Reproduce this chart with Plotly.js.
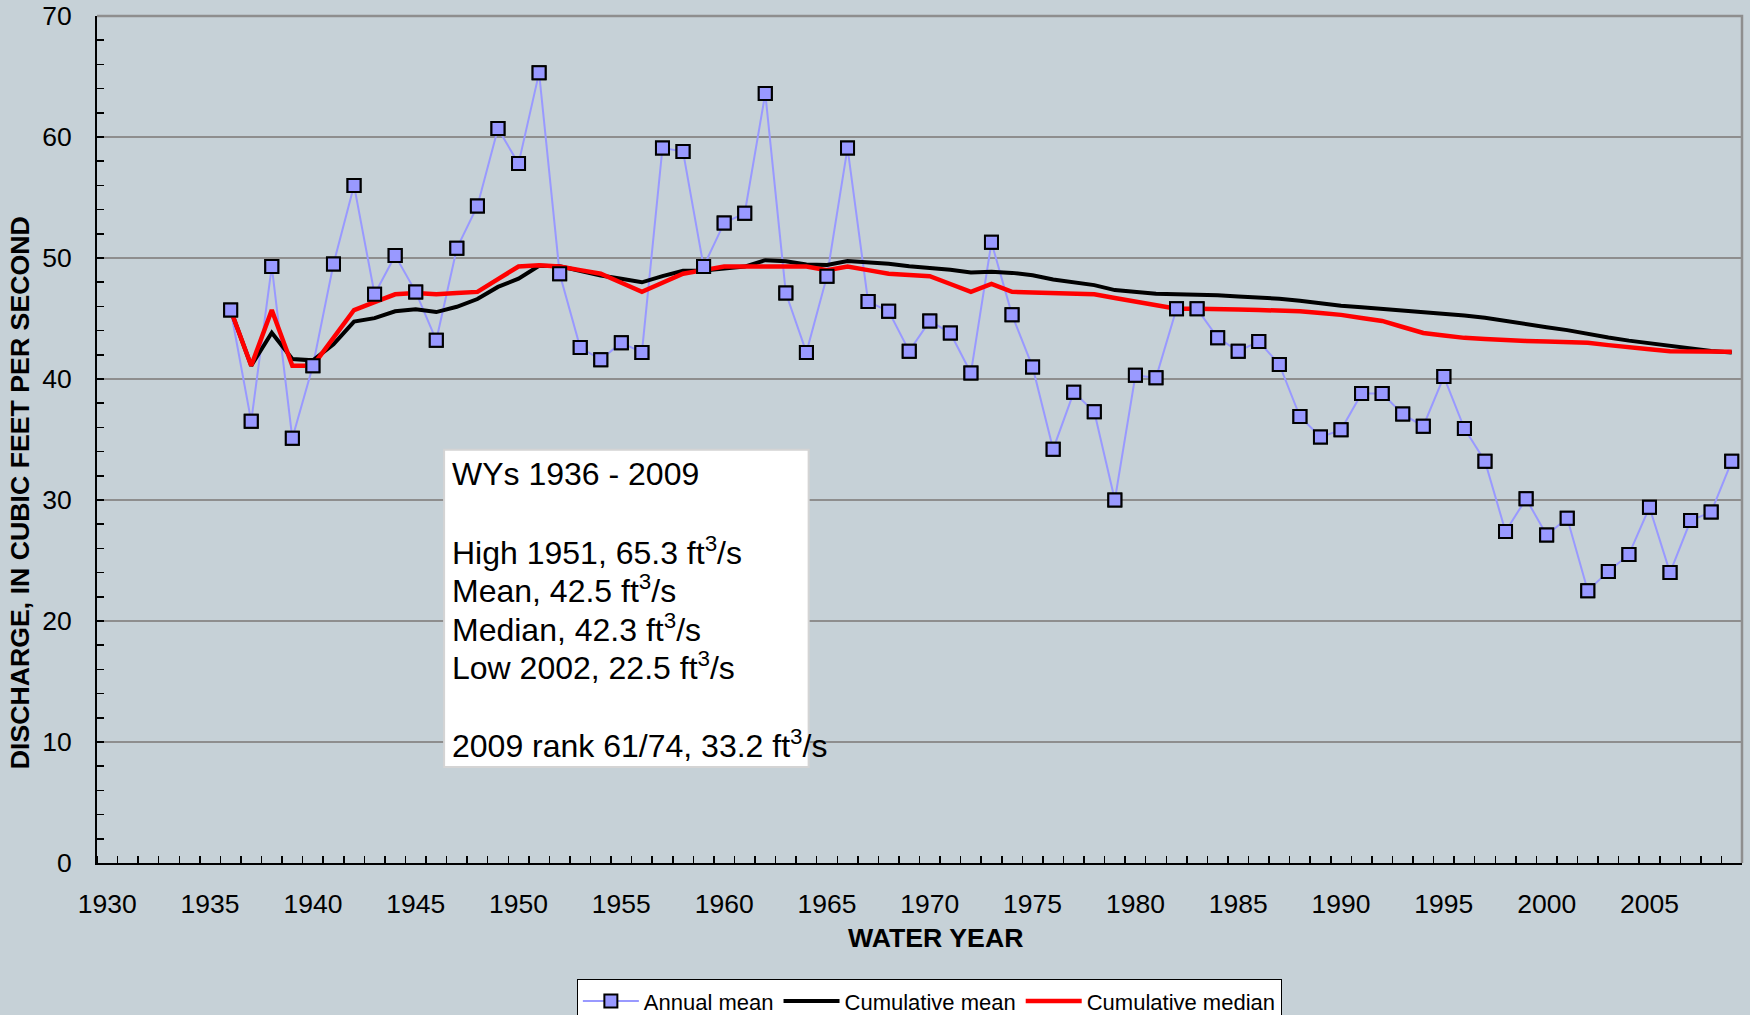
<!DOCTYPE html>
<html>
<head>
<meta charset="utf-8">
<script src="https://cdn.plot.ly/plotly-3.0.1.min.js"></script>
<style>
html,body{margin:0;padding:0;background:#C6D1D7;}
#chart{width:1750px;height:1015px;}
</style>
</head>
<body>
<div id="chart"></div>
<script>
// ---- data ----
const years = [1936,1937,1938,1939,1940,1941,1942,1943,1944,1945,1946,1947,1948,1949,1950,
  1951,1952,1953,1954,1955,1956,1957,1958,1959,1960,1961,1962,1963,1964,1965,
  1966,1967,1968,1969,1970,1971,1972,1973,1974,1975,1976,1977,1978,1979,1980,
  1981,1982,1983,1984,1985,1986,1987,1988,1989,1990,1991,1992,1993,1994,1995,
  1996,1997,1998,1999,2000,2001,2002,2003,2004,2005,2006,2007,2008,2009];

const annualMean = [45.7,36.5,49.3,35.1,41.1,49.5,56.0,47.0,50.2,47.2,43.2,50.8,54.3,60.7,57.8,
  65.3,48.7,42.6,41.6,43.0,42.2,59.1,58.8,49.3,52.9,53.7,63.6,47.1,42.2,48.5,
  59.1,46.4,45.6,42.3,44.8,43.8,40.5,51.3,45.3,41.0,34.2,38.9,37.3,30.0,40.3,
  40.1,45.8,45.8,43.4,42.3,43.1,41.2,36.9,35.2,35.8,38.8,38.8,37.1,36.1,40.2,
  35.9,33.2,27.4,30.1,27.1,28.5,22.5,24.1,25.5,29.4,24.0,28.3,29.0,33.2];

const cumulativeMean = [45.70,41.10,43.83,41.65,41.54,42.87,44.74,45.03,45.60,45.76,45.53,45.97,46.61,47.61,48.29,
  49.36,49.32,48.94,48.56,48.28,47.99,48.50,48.94,48.96,49.12,49.29,49.82,49.73,49.47,49.43,
  49.75,49.64,49.52,49.31,49.18,49.03,48.80,48.86,48.77,48.58,48.23,48.00,47.76,47.35,47.20,
  47.04,47.01,46.99,46.92,46.82,46.75,46.64,46.46,46.25,46.06,45.93,45.81,45.66,45.49,45.41,
  45.25,45.06,44.78,44.55,44.28,44.04,43.72,43.43,43.17,42.97,42.71,42.51,42.32,42.20];

const cumulativeMedian = [45.7,41.1,45.7,41.1,41.1,43.4,45.7,46.35,47.0,47.1,47.0,47.1,47.2,48.25,49.3,
  49.4,49.3,49.0,48.7,47.95,47.2,47.95,48.7,49.0,49.3,49.3,49.3,49.3,49.3,49.0,
  49.3,49.0,48.7,48.6,48.5,47.85,47.2,47.85,47.2,47.15,47.1,47.05,47.0,46.7,46.4,
  46.05,45.8,45.8,45.8,45.75,45.7,45.65,45.6,45.45,45.3,45.05,44.8,44.3,43.8,43.6,
  43.4,43.3,43.2,43.15,43.1,43.05,43.0,42.8,42.6,42.45,42.3,42.3,42.3,42.25];

const xTickValues = [1930,1935,1940,1945,1950,1955,1960,1965,1970,1975,1980,1985,1990,1995,2000,2005];
const xTickLabels = ["1930","1935","1940","1945","1950","1955","1960","1965","1970","1975","1980","1985","1990","1995","2000","2005"];

const seriesNames = ["Annual mean","Cumulative mean","Cumulative median"];
const xAxisTitle = "WATER YEAR";
const yAxisTitle = "DISCHARGE, IN CUBIC FEET PER SECOND";

const summaryLines = [
  "WYs 1936 - 2009",
  "High 1951, 65.3 ft<sup>3</sup>/s",
  "Mean, 42.5 ft<sup>3</sup>/s",
  "Median, 42.3 ft<sup>3</sup>/s",
  "Low 2002, 22.5 ft<sup>3</sup>/s",
  "2009 rank 61/74, 33.2 ft<sup>3</sup>/s"
];
const summaryLineY = [0.4598, 0.3684, 0.3231, 0.2779, 0.2326, 0.1410];

// ---- styling ----
const FONT = "Liberation Sans, Arial, Helvetica, sans-serif";
const BG = "#C6D1D7";
const GRID = "#8E8E8E";
const BLUE = "#9999FF";

const traces = [
  {
    x: years, y: annualMean, name: seriesNames[0], type: "scatter", mode: "lines+markers",
    line: {color: BLUE, width: 2},
    marker: {symbol: "square", size: 13, color: BLUE, line: {color: "#000000", width: 2}}
  },
  {
    x: years, y: cumulativeMean, name: seriesNames[1], type: "scatter", mode: "lines",
    line: {color: "#000000", width: 4}
  },
  {
    x: years, y: cumulativeMedian, name: seriesNames[2], type: "scatter", mode: "lines",
    line: {color: "#FF0000", width: 4.5}
  },
  {
    x: years, y: annualMean, name: seriesNames[0], type: "scatter", mode: "markers",
    showlegend: false, hoverinfo: "skip",
    marker: {symbol: "square", size: 13, color: BLUE, line: {color: "#000000", width: 2}}
  }
];

const annotations = summaryLines.map((t, i) => ({
  xref: "paper", yref: "paper", x: 0.2145, y: summaryLineY[i],
  xanchor: "left", yanchor: "middle", showarrow: false, align: "left",
  text: t, font: {family: FONT, size: 32, color: "#000000"}
}));

annotations.push({
  xref: "paper", yref: "paper", x: -0.0468, y: 0.4365, xanchor: "center", yanchor: "middle",
  showarrow: false, textangle: -90, text: "<b>" + yAxisTitle + "</b>",
  font: {family: FONT, size: 26.7, color: "#000000"}
});
annotations.push({
  xref: "paper", yref: "paper", x: 0.5097, y: -0.0883, xanchor: "center", yanchor: "middle",
  showarrow: false, text: "<b>" + xAxisTitle + "</b>",
  font: {family: FONT, size: 26.7, color: "#000000"}
});

const layout = {
  width: 1750, height: 1015,
  paper_bgcolor: BG, plot_bgcolor: BG,
  margin: {l: 97, r: 8, t: 16, b: 152, autoexpand: false},
  font: {family: FONT, color: "#000000"},
  showlegend: true,
  legend: {
    orientation: "h", x: 0.506, xanchor: "center", y: -0.1373, yanchor: "top",
    bgcolor: "#FFFFFF", bordercolor: "#000000", borderwidth: 1,
    font: {family: FONT, size: 22, color: "#000000"},
    itemwidth: 56, tracegroupgap: 0
  },
  xaxis: {
    range: [1929.5, 2009.5], type: "linear",
    tickmode: "array", tickvals: xTickValues, ticktext: xTickLabels,
    ticks: "", showgrid: false, zeroline: false,
    showline: true, linecolor: "#000000", linewidth: 2,
    tickfont: {family: FONT, size: 26.5, color: "#000000"},
    ticklabelstandoff: 16,
    minor: {tick0: 1929.5, dtick: 1, ticks: "inside", ticklen: 7, tickwidth: 1.5, tickcolor: "#000000", showgrid: false}
  },
  yaxis: {
    range: [0, 70], tickmode: "linear", tick0: 0, dtick: 10,
    ticks: "inside", ticklen: 7, tickwidth: 1.5, tickcolor: "#000000",
    showgrid: true, gridcolor: GRID, gridwidth: 2, zeroline: false,
    showline: true, linecolor: "#000000", linewidth: 2,
    tickfont: {family: FONT, size: 26.5, color: "#000000"},
    ticklabelstandoff: 18,
    minor: {dtick: 2, ticks: "inside", ticklen: 7, tickwidth: 1.5, tickcolor: "#000000", showgrid: false}
  },
  shapes: [
    {type: "path", xref: "paper", yref: "paper", path: "M 0 1 L 1 1 L 1 0",
     line: {color: GRID, width: 2.5}, layer: "above"},
    {type: "rect", xref: "paper", yref: "paper", x0: 0.211, x1: 0.4326, y0: 0.1133, y1: 0.488,
     fillcolor: "#FFFFFF", line: {color: "#D4D4D4", width: 2}, layer: "above"}
  ],
  annotations: annotations
};

Plotly.newPlot("chart", traces, layout, {displayModeBar: false, responsive: false, staticPlot: true});
</script>
</body>
</html>
